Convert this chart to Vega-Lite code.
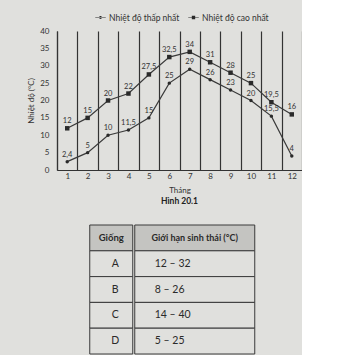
{
  "$schema": "https://vega.github.io/schema/vega-lite/v6.json",
  "background": "#e0e0dd",
  "padding": {"left": 27, "top": 12, "right": 0, "bottom": 0},
  "config": {
    "view": {"stroke": null},
    "font": "Lato",
    "locale": {"number": {"decimal": ",", "thousands": ".", "grouping": [3], "currency": ["", ""]}},
    "axis": {"labelColor": "#333", "titleColor": "#333", "labelFont": "Lato", "titleFont": "Lato"}
  },
  "datasets": {
    "temps": [
      {"month": 1, "series": "Nhiệt độ thấp nhất", "temp": 2.4},
      {"month": 2, "series": "Nhiệt độ thấp nhất", "temp": 5},
      {"month": 3, "series": "Nhiệt độ thấp nhất", "temp": 10},
      {"month": 4, "series": "Nhiệt độ thấp nhất", "temp": 11.5},
      {"month": 5, "series": "Nhiệt độ thấp nhất", "temp": 15},
      {"month": 6, "series": "Nhiệt độ thấp nhất", "temp": 25},
      {"month": 7, "series": "Nhiệt độ thấp nhất", "temp": 29},
      {"month": 8, "series": "Nhiệt độ thấp nhất", "temp": 26},
      {"month": 9, "series": "Nhiệt độ thấp nhất", "temp": 23},
      {"month": 10, "series": "Nhiệt độ thấp nhất", "temp": 20},
      {"month": 11, "series": "Nhiệt độ thấp nhất", "temp": 15.5},
      {"month": 12, "series": "Nhiệt độ thấp nhất", "temp": 4},
      {"month": 1, "series": "Nhiệt độ cao nhất", "temp": 12},
      {"month": 2, "series": "Nhiệt độ cao nhất", "temp": 15},
      {"month": 3, "series": "Nhiệt độ cao nhất", "temp": 20},
      {"month": 4, "series": "Nhiệt độ cao nhất", "temp": 22},
      {"month": 5, "series": "Nhiệt độ cao nhất", "temp": 27.5},
      {"month": 6, "series": "Nhiệt độ cao nhất", "temp": 32.5},
      {"month": 7, "series": "Nhiệt độ cao nhất", "temp": 34},
      {"month": 8, "series": "Nhiệt độ cao nhất", "temp": 31},
      {"month": 9, "series": "Nhiệt độ cao nhất", "temp": 28},
      {"month": 10, "series": "Nhiệt độ cao nhất", "temp": 25},
      {"month": 11, "series": "Nhiệt độ cao nhất", "temp": 19.5},
      {"month": 12, "series": "Nhiệt độ cao nhất", "temp": 16}
    ],
    "table": [
      {"row": "header", "c1": "Giống", "c2": "Giới hạn sinh thái (°C)"},
      {"row": "A", "c1": "A", "c2": "12 – 32"},
      {"row": "B", "c1": "B", "c2": "8 – 26"},
      {"row": "C", "c1": "C", "c2": "14 – 40"},
      {"row": "D", "c1": "D", "c2": "5 – 25"}
    ]
  },
  "spacing": 18,
  "center": true,
  "vconcat": [
    {
      "width": 245,
      "height": 139,
      "title": {"text": "Hình 20.1", "orient": "bottom", "anchor": "middle", "fontSize": 8.5, "fontWeight": "bold", "color": "#222", "offset": 3},
      "data": {"name": "temps"},
      "encoding": {
        "x": {
          "field": "month", "type": "ordinal",
          "scale": {"paddingInner": 0, "paddingOuter": 0},
          "axis": {
            "labelAngle": 0, "grid": true, "tickBand": "extent", "ticks": false,
            "gridColor": "#333", "gridWidth": 1.2, "gridOpacity": 1,
            "domainColor": "#333", "domainWidth": 1.2,
            "title": "Tháng", "labelPadding": 2, "titlePadding": 6,
            "labelFontSize": 8, "titleFontSize": 8, "titleFontWeight": "normal"
          }
        },
        "y": {
          "field": "temp", "type": "quantitative",
          "scale": {"domain": [0, 40], "nice": false},
          "axis": {
            "values": [0, 5, 10, 15, 20, 25, 30, 35, 40],
            "grid": false, "ticks": false,
            "domainColor": "#333", "domainWidth": 1.2,
            "title": "Nhiệt độ (°C)", "labelPadding": 8, "titlePadding": 4,
            "labelFontSize": 8, "titleFontSize": 8, "titleFontWeight": "normal"
          }
        }
      },
      "resolve": {"scale": {"shape": "independent"}},
      "layer": [
        {
          "mark": {"type": "line", "strokeWidth": 1.2, "color": "#3a3a3a"},
          "encoding": {"detail": {"field": "series", "type": "nominal"}}
        },
        {
          "mark": {"type": "point", "filled": true, "opacity": 1, "color": "#2a2a2a"},
          "encoding": {
            "shape": {
              "field": "series", "type": "nominal",
              "scale": {"domain": ["Nhiệt độ thấp nhất", "Nhiệt độ cao nhất"], "range": ["circle", "square"]},
              "legend": null
            },
            "size": {
              "field": "series", "type": "nominal",
              "scale": {"domain": ["Nhiệt độ thấp nhất", "Nhiệt độ cao nhất"], "range": [12, 20]},
              "legend": null
            }
          }
        },
        {
          "mark": {"type": "point", "filled": true, "opacity": 0, "color": "#2a2a2a"},
          "encoding": {
            "shape": {
              "field": "series", "type": "nominal",
              "scale": {
                "domain": ["Nhiệt độ thấp nhất", "Nhiệt độ cao nhất"],
                "range": [
                  "M-1,-0.07H1V0.07H-1ZM-0.28,0A0.28,0.28,0,1,0,0.28,0A0.28,0.28,0,1,0,-0.28,0Z",
                  "M-1,-0.07H1V0.07H-1ZM-0.32,-0.32H0.32V0.32H-0.32Z"
                ]
              },
              "legend": {
                "orient": "none", "legendX": 38, "legendY": -19,
                "direction": "horizontal", "title": null,
                "labelFontSize": 8.5, "labelColor": "#333", "symbolSize": 110,
                "symbolOpacity": 1, "symbolFillColor": "#333", "symbolStrokeWidth": 0,
                "columnPadding": 8, "labelOffset": 3
              }
            }
          }
        },
        {
          "mark": {"type": "text", "dy": -7, "fontSize": 7.5, "color": "#333"},
          "encoding": {"text": {"field": "temp", "type": "quantitative", "format": "~g"}}
        }
      ]
    },
    {
      "spacing": 0,
      "hconcat": [
        {
          "width": 43,
          "height": 129,
          "data": {"name": "table"},
          "encoding": {
            "y": {"field": "row", "type": "nominal", "sort": ["header", "A", "B", "C", "D"],
                  "scale": {"paddingInner": 0, "paddingOuter": 0}, "axis": null}
          },
          "layer": [
            {
              "mark": {"type": "rect", "stroke": "#3a3a3a", "strokeWidth": 1},
              "encoding": {
                "fill": {"condition": {"test": "datum.row === 'header'", "value": "#c4c4c1"}, "value": "#e0e0dd"}
              }
            },
            {
              "transform": [{"filter": "datum.row === 'header'"}],
              "mark": {"type": "text", "fontSize": 9.5, "fontWeight": "bold", "color": "#2a2a2a"},
              "encoding": {"text": {"field": "c1"}}
            },
            {
              "transform": [{"filter": "datum.row !== 'header'"}],
              "mark": {"type": "text", "fontSize": 10.5, "color": "#2a2a2a", "dx": 4},
              "encoding": {"text": {"field": "c1"}}
            }
          ]
        },
        {
          "width": 120,
          "height": 129,
          "data": {"name": "table"},
          "encoding": {
            "y": {"field": "row", "type": "nominal", "sort": ["header", "A", "B", "C", "D"],
                  "scale": {"paddingInner": 0, "paddingOuter": 0},
                  "axis": {"orient": "right", "labels": false, "domain": false, "ticks": true,
                           "tickSize": 14, "tickColor": "transparent", "title": null}}
          },
          "layer": [
            {
              "mark": {"type": "rect", "stroke": "#3a3a3a", "strokeWidth": 1},
              "encoding": {
                "fill": {"condition": {"test": "datum.row === 'header'", "value": "#c4c4c1"}, "value": "#e0e0dd"}
              }
            },
            {
              "transform": [{"filter": "datum.row === 'header'"}],
              "mark": {"type": "text", "fontSize": 9, "fontWeight": "bold", "color": "#2a2a2a"},
              "encoding": {"text": {"field": "c2"}}
            },
            {
              "transform": [{"filter": "datum.row !== 'header'"}],
              "mark": {"type": "text", "fontSize": 10.5, "color": "#2a2a2a", "align": "left", "dx": -40},
              "encoding": {"text": {"field": "c2"}}
            }
          ]
        }
      ]
    }
  ]
}
